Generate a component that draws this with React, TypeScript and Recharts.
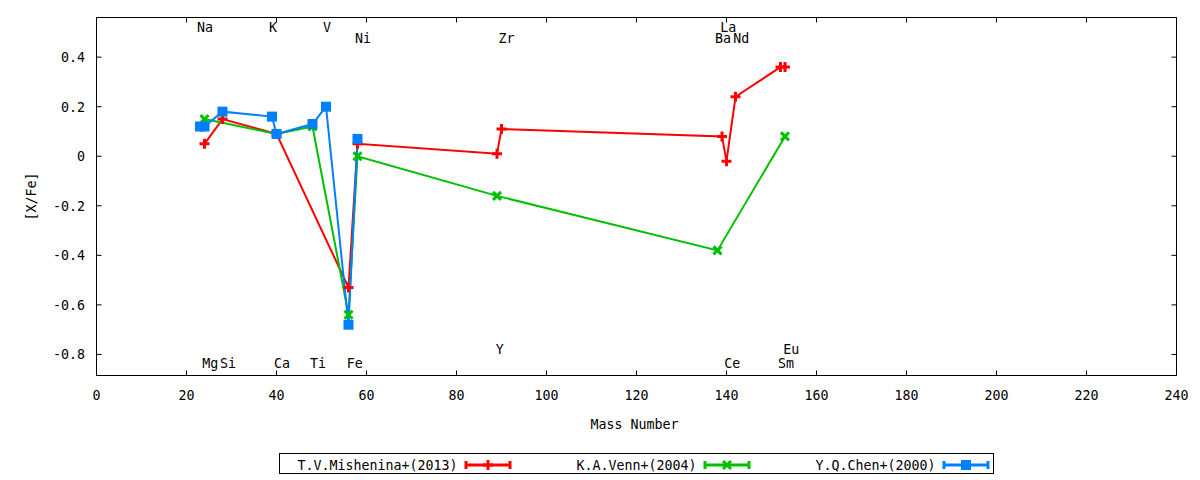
import { LineChart, Line, XAxis, YAxis, ReferenceArea, ReferenceDot, Legend } from 'recharts'

// [X/Fe] against mass number, three studies
const misheninaMass = [24, 28, 40, 56, 58, 89, 90, 139, 140, 142, 152, 153]
const misheninaXFe = [0.05, 0.15, 0.09, -0.53, 0.05, 0.01, 0.11, 0.08, -0.02, 0.24, 0.36, 0.36]

const vennMass = [24, 40, 48, 56, 58, 89, 138, 153]
const vennXFe = [0.15, 0.09, 0.12, -0.64, 0.0, -0.16, -0.38, 0.08]

const chenMass = [23, 24, 28, 39, 40, 48, 51, 56, 58]
const chenXFe = [0.12, 0.12, 0.18, 0.16, 0.09, 0.13, 0.2, -0.68, 0.07]

const seriesNames = ['T.V.Mishenina+(2013)', 'K.A.Venn+(2004)', 'Y.Q.Chen+(2000)']

// element annotations: name, mass where drawn, text row
const elementNames = ['Na', 'K', 'V', 'La', 'Ni', 'Zr', 'Ba', 'Nd', 'Y', 'Eu', 'Mg', 'Si', 'Ca', 'Ti', 'Fe', 'Ce', 'Sm']
const elementMass = [24.1, 39.2, 51.2, 140.4, 59.2, 91.1, 139.2, 143.3, 89.6, 154.4, 25.3, 29.2, 41.2, 49.2, 57.4, 141.3, 153.2]
const elementRow = [0, 0, 0, 0, 1, 1, 1, 1, 2, 2, 3, 3, 3, 3, 3, 3, 3]

const xTicks = [0, 20, 40, 60, 80, 100, 120, 140, 160, 180, 200, 220, 240]
const yTicks = [-0.8, -0.6, -0.4, -0.2, 0, 0.2, 0.4]

const Y_MIN = -0.885
const Y_MAX = 0.56
const ROW_Y = [0.52, 0.478, -0.778, -0.835]

const COLORS = ['#ff0000', '#00c000', '#0080ff']
const FONT = '"DejaVu Sans Mono", monospace'

const PLOT_LEFT = 96.5
const PLOT_RIGHT = 1176.5
const PLOT_TOP = 17.5
const PLOT_BOTTOM = 375.5
const TICK = 5

const toPoints = (mass: number[], vals: number[]) => mass.map((x, i) => ({ x, y: vals[i] }))

function Mono({ x, y, children, anchor = 'middle', transform }: any) {
  const s = String(children)
  return (
    <text
      x={x}
      y={y}
      dy="0.36em"
      textAnchor={anchor}
      fontFamily={FONT}
      fontSize={14}
      fill="#000"
      textLength={s.length * 8}
      lengthAdjust="spacingAndGlyphs"
      transform={transform}
    >
      {s}
    </text>
  )
}

function Marker({ kind, cx, cy, color }: { kind: number; cx: number; cy: number; color: string }) {
  if (kind === 0) {
    return (
      <g stroke={color} strokeWidth={3}>
        <line x1={cx - 5} x2={cx + 5} y1={cy} y2={cy} />
        <line x1={cx} x2={cx} y1={cy - 5} y2={cy + 5} />
      </g>
    )
  }
  if (kind === 1) {
    return (
      <g stroke={color} strokeWidth={3}>
        <line x1={cx - 4} x2={cx + 4} y1={cy - 4} y2={cy + 4} />
        <line x1={cx - 4} x2={cx + 4} y1={cy + 4} y2={cy - 4} />
      </g>
    )
  }
  return <rect x={cx - 5} y={cy - 5} width={10} height={10} fill={color} />
}

function XTick({ x, payload }: any) {
  return (
    <g>
      <line x1={x} x2={x} y1={PLOT_BOTTOM} y2={PLOT_BOTTOM - TICK} stroke="#000" />
      <line x1={x} x2={x} y1={PLOT_TOP} y2={PLOT_TOP + TICK} stroke="#000" />
      <Mono x={x} y={395}>{payload.value}</Mono>
    </g>
  )
}

function YTick({ y, payload }: any) {
  const v = payload.value
  const label = v === 0 ? '0' : v.toFixed(1)
  return (
    <g>
      <line x1={PLOT_LEFT} x2={PLOT_LEFT + TICK} y1={y} y2={y} stroke="#000" />
      <line x1={PLOT_RIGHT} x2={PLOT_RIGHT - TICK} y1={y} y2={y} stroke="#000" />
      <Mono x={85} y={y} anchor="end">{label}</Mono>
    </g>
  )
}

function LegendBox() {
  return (
    <svg width={1200} height={40} style={{ display: 'block' }}>
      <rect x={279.5} y={13.5} width={714} height={20} fill="none" stroke="#000" />
      {seriesNames.map((name, i) => {
        const textEnd = 457.5 + 239 * i
        const s0 = textEnd + 8.5
        const s1 = s0 + 44
        const cy = 25
        const c = COLORS[i]
        return (
          <g key={name}>
            <Mono x={textEnd} y={cy} anchor="end">{name}</Mono>
            <g stroke={c} strokeWidth={3}>
              <line x1={s0} x2={s1} y1={cy} y2={cy} />
              <line x1={s0} x2={s0} y1={cy - 4} y2={cy + 4} />
              <line x1={s1} x2={s1} y1={cy - 4} y2={cy + 4} />
            </g>
            <Marker kind={i} cx={(s0 + s1) / 2} cy={cy} color={c} />
          </g>
        )
      })}
    </svg>
  )
}

const series = [
  toPoints(misheninaMass, misheninaXFe),
  toPoints(vennMass, vennXFe),
  toPoints(chenMass, chenXFe),
]

export default function App() {
  return (
    <div style={{ position: 'absolute', left: 0, top: 0, background: '#fff' }}>
      <LineChart
        width={1200}
        height={480}
        margin={{ top: PLOT_TOP, right: 1200 - PLOT_RIGHT, bottom: 480 - PLOT_BOTTOM - 60, left: 0.5 }}
      >
        <XAxis
          type="number"
          dataKey="x"
          domain={[0, 240]}
          ticks={xTicks}
          interval={0}
          allowDataOverflow
          axisLine={false}
          tickLine={false}
          height={60}
          tick={(p: any) => <XTick {...p} />}
          label={(p: any) => (
            <Mono x={p.viewBox.x + p.viewBox.width / 2 - 2} y={424}>Mass Number</Mono>
          )}
        />
        <YAxis
          type="number"
          dataKey="y"
          domain={[Y_MIN, Y_MAX]}
          ticks={yTicks}
          interval={0}
          allowDataOverflow
          axisLine={false}
          tickLine={false}
          width={96}
          tick={(p: any) => <YTick {...p} />}
          label={(p: any) => (
            <Mono x={31} y={p.viewBox.y + p.viewBox.height / 2} transform={`rotate(-90, 31, ${p.viewBox.y + p.viewBox.height / 2})`}>
              [X/Fe]
            </Mono>
          )}
        />
        <ReferenceArea x1={0} x2={240} y1={Y_MIN} y2={Y_MAX} fill="none" stroke="#000" strokeWidth={1} ifOverflow="visible" />
        {elementNames.map((el, i) => (
          <ReferenceDot
            key={el}
            x={elementMass[i]}
            y={ROW_Y[elementRow[i]]}
            r={0}
            ifOverflow="visible"
            shape={(p: any) => <Mono x={p.cx} y={p.cy}>{el}</Mono>}
          />
        ))}
        {series.map((pts, i) => (
          <Line
            key={seriesNames[i]}
            data={pts}
            dataKey="y"
            name={seriesNames[i]}
            type="linear"
            stroke={COLORS[i]}
            strokeWidth={2}
            isAnimationActive={false}
            activeDot={false}
            dot={(p: any) => <Marker key={`m${i}-${p.index}`} kind={i} cx={p.cx} cy={p.cy} color={COLORS[i]} />}
          />
        ))}
        <Legend
          layout="horizontal"
          verticalAlign="middle"
          align="center"
          wrapperStyle={{ left: 0, top: 440, width: 1200, height: 40 }}
          content={() => <LegendBox />}
        />
      </LineChart>
    </div>
  )
}
